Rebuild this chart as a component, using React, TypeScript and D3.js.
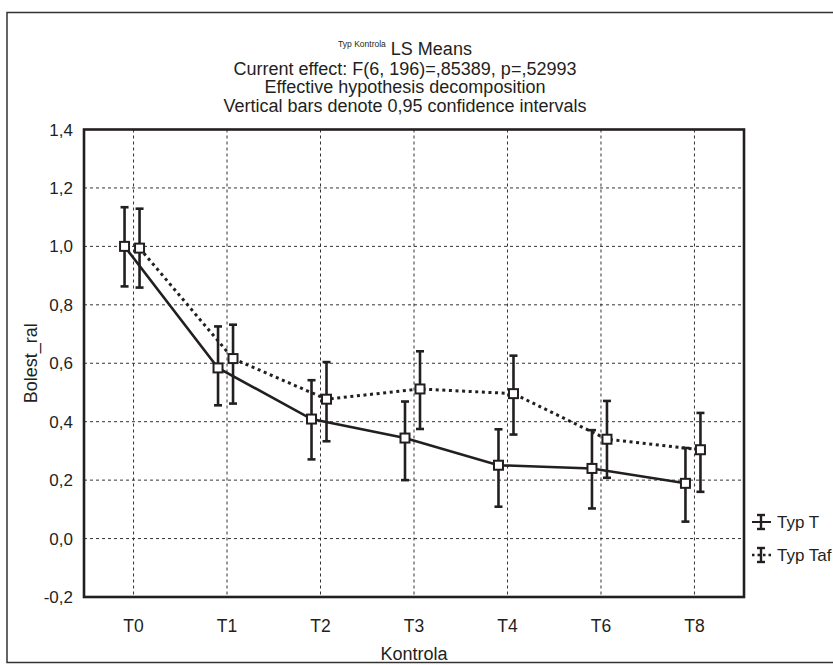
import React from "react";
import * as d3 from "d3";

const categories = ["T0", "T1", "T2", "T3", "T4", "T6", "T8"];
const seriesNames = ["Typ T", "Typ Taf"];
const tMean = [1.0, 0.584, 0.409, 0.344, 0.251, 0.24, 0.189];
const tLow = [0.863, 0.456, 0.271, 0.2, 0.109, 0.103, 0.058];
const tHigh = [1.134, 0.726, 0.542, 0.469, 0.374, 0.371, 0.31];
const tafMean = [0.994, 0.616, 0.477, 0.512, 0.496, 0.34, 0.304];
const tafLow = [0.859, 0.462, 0.333, 0.375, 0.356, 0.208, 0.16];
const tafHigh = [1.129, 0.732, 0.604, 0.641, 0.626, 0.471, 0.43];
const yTickValues = [-0.2, 0, 0.2, 0.4, 0.6, 0.8, 1.0, 1.2, 1.4];
const titleSup = "Typ Kontrola";
const titleMain = "LS Means";
const subtitles = [
  "Current effect: F(6, 196)=,85389, p=,52993",
  "Effective hypothesis decomposition",
  "Vertical bars denote 0,95 confidence intervals",
];
const xTitle = "Kontrola";
const yTitle = "Bolest_ral";

const FONT = "'Liberation Sans', Arial, Helvetica, sans-serif";
const INK = "#231f20";

export default function App() {
  const W = 833;
  const H = 665;
  const plot = { left: 84, right: 744, top: 129.5, bottom: 597 };

  const x = d3
    .scalePoint<string>()
    .domain(categories)
    .range([plot.left, plot.right])
    .padding(0.53);
  const y = d3.scaleLinear().domain([-0.2, 1.4]).range([plot.bottom, plot.top]);

  const locale = d3.formatLocale({
    decimal: ",",
    thousands: ".",
    grouping: [3],
    currency: ["", ""],
    minus: "-",
  });
  const fmt = locale.format(".1f");

  const series = [
    { name: seriesNames[0], mean: tMean, lo: tLow, hi: tHigh, off: -9, dash: undefined as string | undefined },
    { name: seriesNames[1], mean: tafMean, lo: tafLow, hi: tafHigh, off: 6, dash: "3 3.6" },
  ];

  const capW = 8;
  const sq = 9;

  const titleCx = 405;

  return (
    <svg
      width={W}
      height={H}
      style={{ position: "absolute", left: 0, top: 0, background: "#fff" }}
      fontFamily={FONT}
    >
      <rect x={0} y={0} width={W} height={H} fill="#fff" />
      {/* outer frame */}
      <rect x={7} y={12.5} width={900} height={650} fill="none" stroke="#333" strokeWidth={1.5} />

      {/* titles */}
      <text x={titleCx} y={54.5} textAnchor="middle" fill={INK}>
        <tspan fontSize={8.5} dy={-8}>{titleSup}</tspan>
        <tspan fontSize={18} dy={8}>{" " + titleMain}</tspan>
      </text>
      {subtitles.map((s, i) => (
        <text key={i} x={titleCx} y={74.5 + i * 18.5} textAnchor="middle" fontSize={18} fill={INK}>
          {s}
        </text>
      ))}

      {/* grid */}
      <g stroke="#333" strokeWidth={1} strokeDasharray="3 3">
        {yTickValues
          .filter((v) => v > -0.2 && v < 1.4)
          .map((v) => (
            <line key={"h" + v} x1={plot.left} x2={plot.right} y1={y(v)} y2={y(v)} />
          ))}
        {categories.map((c) => (
          <line key={"v" + c} x1={x(c)} x2={x(c)} y1={plot.top} y2={plot.bottom} />
        ))}
      </g>

      {/* y tick labels */}
      {yTickValues.map((v) => (
        <text key={"yl" + v} x={73} y={y(v)} dy="0.36em" textAnchor="end" fontSize={17} fill={INK}>
          {fmt(v)}
        </text>
      ))}
      {/* x tick labels */}
      {categories.map((c) => (
        <text key={"xl" + c} x={x(c)} y={632} textAnchor="middle" fontSize={17.5} fill={INK}>
          {c}
        </text>
      ))}
      <text x={(plot.left + plot.right) / 2} y={660} textAnchor="middle" fontSize={18} fill={INK}>
        {xTitle}
      </text>
      <text
        transform={`translate(37,${(plot.top + plot.bottom) / 2}) rotate(-90)`}
        textAnchor="middle"
        fontSize={18}
        fill={INK}
      >
        {yTitle}
      </text>

      {/* series lines */}
      {series.map((s) => {
        const line = d3
          .line<number>()
          .x((_, i) => (x(categories[i]) as number) + s.off)
          .y((d) => y(d));
        return (
          <path
            key={"l" + s.name}
            d={line(s.mean) || ""}
            fill="none"
            stroke={INK}
            strokeWidth={s.dash ? 3 : 2.6}
            strokeDasharray={s.dash}
          />
        );
      })}

      {/* error bars */}
      {series.map((s) =>
        s.mean.map((_, i) => {
          const cx = (x(categories[i]) as number) + s.off;
          return (
            <g key={"e" + s.name + i} stroke={INK} strokeWidth={2.6}>
              <line x1={cx} x2={cx} y1={y(s.lo[i])} y2={y(s.hi[i])} />
              <line x1={cx - capW / 2} x2={cx + capW / 2} y1={y(s.lo[i])} y2={y(s.lo[i])} />
              <line x1={cx - capW / 2} x2={cx + capW / 2} y1={y(s.hi[i])} y2={y(s.hi[i])} />
            </g>
          );
        })
      )}

      {/* markers */}
      {series.map((s) =>
        s.mean.map((v, i) => {
          const cx = (x(categories[i]) as number) + s.off;
          return (
            <rect
              key={"m" + s.name + i}
              x={cx - sq / 2}
              y={y(v) - sq / 2}
              width={sq}
              height={sq}
              fill="#fff"
              stroke={INK}
              strokeWidth={2}
            />
          );
        })
      )}

      {/* plot frame */}
      <rect
        x={plot.left}
        y={plot.top}
        width={plot.right - plot.left}
        height={plot.bottom - plot.top}
        fill="none"
        stroke={INK}
        strokeWidth={2.6}
      />

      {/* legend */}
      {series.map((s, k) => {
        const ly = 522 + k * 33;
        const lx = 761;
        return (
          <g key={"lg" + s.name}>
            <line
              x1={lx - 9}
              x2={lx + 10}
              y1={ly}
              y2={ly}
              stroke={INK}
              strokeWidth={s.dash ? 2.5 : 2}
              strokeDasharray={s.dash ? "2.5 3" : undefined}
            />
            <g stroke={INK} strokeWidth={2.4}>
              <line x1={lx} x2={lx} y1={ly - 7} y2={ly + 7} />
              <line x1={lx - 4} x2={lx + 4} y1={ly - 7} y2={ly - 7} />
              <line x1={lx - 4} x2={lx + 4} y1={ly + 7} y2={ly + 7} />
            </g>
            <text x={777} y={ly + 6} fontSize={17} fill={INK}>
              {s.name}
            </text>
          </g>
        );
      })}
    </svg>
  );
}
